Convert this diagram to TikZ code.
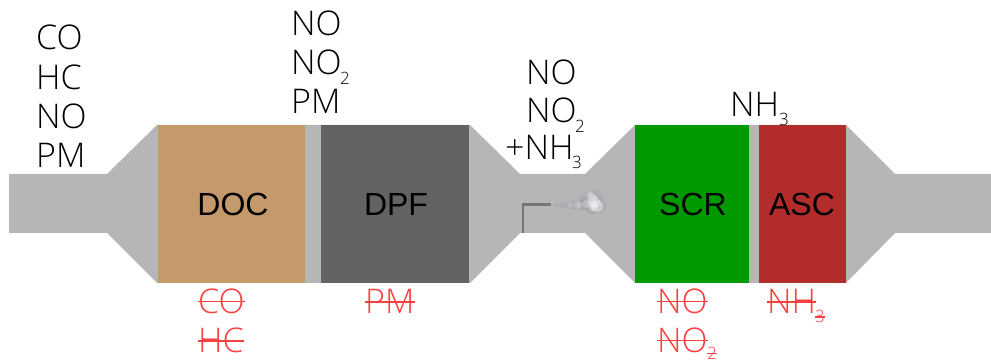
\documentclass[tikz,border=0pt]{standalone}
\usepackage{fontspec}
\setmainfont{Liberation Sans}
\newfontfamily\thinfont{Open Sans Light}
\usetikzlibrary{positioning}
\definecolor{pipegray}{RGB}{182,182,182}
\definecolor{docbrown}{RGB}{196,154,108}
\definecolor{dpfgray}{RGB}{99,99,99}
\definecolor{scrgreen}{RGB}{0,153,0}
\definecolor{ascred}{RGB}{178,44,44}
\definecolor{crossred}{RGB}{250,65,65}
\definecolor{smokegray}{RGB}{150,148,165}
\definecolor{injgray}{RGB}{118,118,118}
\tikzset{
  gas/.style={anchor=base west,inner sep=0pt,font=\thinfont\fontsize{34}{34}\selectfont},
  sub/.style={anchor=base west,inner sep=0pt,font=\thinfont\fontsize{17}{17}\selectfont},
  gone/.style={gas,text=crossred},
  subgone/.style={sub,text=crossred},
  cross/.style={crossred,line width=1.3pt},
  brick/.style={anchor=center,inner sep=0pt,font=\fontsize{32}{32}\selectfont},
}
\begin{document}
\begin{tikzpicture}[x=1pt,y=-1pt]
  \useasboundingbox (0,0) rectangle (991,363);
  % exhaust line
  \fill[pipegray] (9,174)--(107,174)--(157,125)--(470,125)--(520,174)--(585,174)--(635,125)
    --(846,125)--(895,174)--(991,174)--(991,233)--(895,233)--(846,283)--(635,283)
    --(585,233)--(520,233)--(470,283)--(157,283)--(107,233)--(9,233)--cycle;
  % bricks
  \fill[docbrown] (158,125) rectangle (305,283);
  \fill[dpfgray] (321,125) rectangle (469,283);
  \fill[scrgreen] (635,125) rectangle (749,283);
  \fill[ascred] (759,125) rectangle (846,283);
  \node[brick] (doc) at (233,204) {DOC};
  \node[brick] (dpf) at (396,204) {DPF};
  \node[brick] (scr) at (693,204) {SCR};
  \node[brick] (asc) at (802,204) {ASC};
  % injector and spray
  \coordinate (injbase) at (523,233);
  \coordinate (injbend) at (523,204.5);
  \coordinate (injtip) at (551,204.5);
  \draw[line width=2.5pt,injgray] (injbase)--(injbend)--(injtip);
  \foreach \x/\y/\r/\o in {556/205/2/.3,562/205/3/.3,568/205/4/.3,574/205/5/.25,580/205/6/.25,
      586/204/7/.25,590/201/10/.2,595/198/8/.2,597/205/9/.25,592/209/6/.2}
    \fill[smokegray,opacity=\o] (\x,\y) circle (\r);
  \foreach \x/\y/\r/\o in {570/205/3/.2,578/205/4/.25,586/204/4/.25,592/198/5/.3,594/202/6/.35,
      597/206/6/.4,593/206/5/.4,590/194/3/.25}
    \fill[white,opacity=\o] (\x,\y) circle (\r);
  % inlet gases
  \node[gas] (co) at (36,50) {CO};
  \node[gas] (hc) at (36,90) {HC};
  \node[gas] (noa) at (36,129) {NO};
  \node[gas] (pma) at (36,168) {PM};
  % after DOC
  \node[gas] (nob) at (291,36) {NO};
  \node[gas] (nootwob) at (291,75) {NO};
  \node[sub] (twob) at (340,85) {2};
  \node[gas] (pmb) at (291,114) {PM};
  % before SCR
  \node[gas] (noc) at (526,85) {NO};
  \node[gas] (nootwoc) at (526,123) {NO};
  \node[sub] (twoc) at (575,133) {2};
  \node[gas] (nhc) at (505,160) {+NH};
  \node[sub] (threec) at (572,169) {3};
  % ammonia slip
  \node[gas] (nhd) at (730,117) {NH};
  \node[sub] (threed) at (779,126) {3};
  % removed gases
  \node[gone] (xco) at (198,314) {CO};
  \node[gone] (xhc) at (198,353) {HC};
  \node[gone] (xpm) at (365,314) {PM};
  \node[gone] (xno) at (657,314) {NO};
  \node[gone] (xnotwo) at (657,353) {NO};
  \node[subgone] (xtwo) at (707,359.5) {2};
  \node[gone] (xnh) at (767,314) {NH};
  \node[subgone] (xthree) at (815,323) {3};
  \draw[cross] (xco.west) -- (xco.east);
  \draw[cross] (xhc.west) -- (xhc.east);
  \draw[cross] (xpm.west) -- (xpm.east);
  \draw[cross] (xno.west) -- (xno.east);
  \draw[cross] (xnotwo.west) -- (xnotwo.east);
  \draw[cross] (xtwo.west) -- (xtwo.east);
  \draw[cross] (xnh.west) -- (xnh.east);
  \draw[cross] (xthree.west) -- (xthree.east);
\end{tikzpicture}
\end{document}
